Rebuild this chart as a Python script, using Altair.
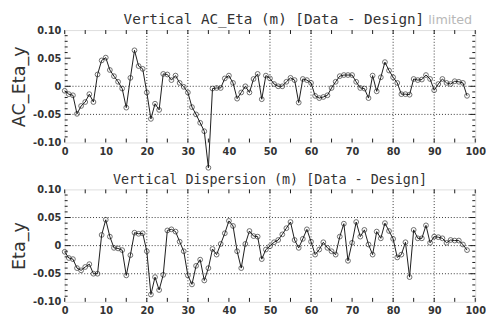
import altair as alt
import pandas as pd

# ---------------- data ----------------
s_pos = list(range(99))

ac_eta_y = [
    -0.008, -0.014, -0.016, -0.049, -0.035, -0.028, -0.014, -0.028, 0.021, 0.046,
    0.051, 0.029, 0.018, 0.008, -0.004, -0.038, 0.015, 0.064, 0.036, 0.031,
    -0.011, -0.058, -0.031, -0.042, 0.022, 0.021, 0.011, 0.019, 0.006, -0.001,
    -0.011, -0.037, -0.050, -0.065, -0.080, -0.145, -0.004, -0.003, -0.003, 0.014,
    0.019, 0.006, -0.022, -0.011, 0.000, -0.011, 0.013, 0.022, -0.023, 0.019,
    0.014, 0.004, 0.000, 0.000, 0.008, 0.015, 0.011, -0.029, 0.013, 0.011,
    0.006, -0.017, -0.021, -0.019, -0.016, -0.003, 0.008, 0.018, 0.020, 0.020,
    0.020, 0.008, -0.003, -0.004, -0.021, 0.019, -0.009, 0.016, 0.043, 0.028,
    0.016, 0.006, -0.014, -0.014, -0.015, 0.013, 0.011, 0.012, 0.020, 0.013,
    -0.007, 0.004, 0.013, 0.006, 0.004, 0.009, 0.008, 0.006, -0.017,
]

eta_y = [
    -0.011, -0.022, -0.024, -0.040, -0.044, -0.038, -0.033, -0.050, -0.050, 0.019,
    0.046, 0.016, -0.004, -0.005, -0.008, -0.053, -0.017, 0.023, 0.021, 0.022,
    -0.010, -0.087, -0.056, -0.079, -0.052, 0.027, 0.029, 0.025, 0.007, -0.010,
    -0.053, -0.069, -0.036, -0.025, -0.062, -0.040, -0.006, -0.016, 0.003, 0.022,
    0.044, 0.035, -0.010, -0.040, 0.003, 0.026, 0.017, 0.016, -0.024, -0.007,
    -0.001, 0.006, 0.010, 0.020, 0.031, 0.042, 0.010, -0.004, 0.012, 0.029,
    0.007, -0.016, -0.007, 0.006, -0.004, -0.010, -0.016, 0.016, 0.039, -0.027,
    0.005, 0.042, 0.016, 0.028, 0.002, -0.016, 0.025, 0.013, 0.040, 0.026,
    0.012, -0.021, -0.016, 0.006, -0.056, 0.028, 0.013, 0.013, 0.036, 0.005,
    0.016, 0.015, 0.013, 0.005, 0.010, 0.009, 0.009, 0.002, -0.008,
]

x_label_values = [0, 10, 20, 30, 40, 50, 60, 70, 80, 90, 100]
x_tick_values = [0, 5, 10, 15, 20, 25, 30, 35, 40, 45, 50, 55, 60, 65, 70, 75, 80, 85, 90, 95, 100]
y_label_values = [-0.10, -0.05, 0.0, 0.05, 0.10]
y_minor_ticks = [-0.09, -0.08, -0.07, -0.06, -0.04, -0.03, -0.02, -0.01,
                 0.01, 0.02, 0.03, 0.04, 0.06, 0.07, 0.08, 0.09]
y_major_ticks = [-0.05, 0.0, 0.05]
x_grid = [20, 30, 50, 60, 80, 90]
top_y_grid = [0.0, -0.05]
bottom_y_grid = [0.05, 0.0, -0.05]

W = 420
H = 115
FONT = "DejaVu Sans"
TITLE_FONT = "DejaVu Sans Mono"
INK = "#1a1a1a"


def panel(values, title_text, y_title, y_grid, title_size, title_dx, extra_text=None):
    df = pd.DataFrame({"s": s_pos, "v": values})
    xscale = alt.Scale(domain=[0, 100], nice=False, zero=False)
    yscale = alt.Scale(domain=[-0.1, 0.1], nice=False, zero=False)

    x_axis = alt.Axis(values=x_label_values, ticks=False, domain=False, grid=False,
                      labelFont=FONT, labelFontSize=10, labelFontWeight="bold",
                      labelColor="#333", labelPadding=4, format="d", title=None,
                      labelFlush=False)
    y_axis = alt.Axis(values=y_label_values, ticks=False, domain=False, grid=False,
                      labelFont=FONT, labelFontSize=10, labelFontWeight="bold",
                      labelColor="#333", labelPadding=4,
                      labelExpr="datum.value == 0 ? '0' : (datum.value < 0 ? '-' + format(-datum.value, '.2f') : format(datum.value, '.2f'))",
                      title=y_title, titleFont=FONT, titleFontSize=18,
                      titleFontWeight="normal", titleColor="#333", titlePadding=4)

    def X(field):
        return alt.X(field, scale=xscale, axis=x_axis)

    def Y(field):
        return alt.Y(field, scale=yscale, axis=y_axis)

    base = alt.Chart(df)
    line = base.mark_line(color=INK, strokeWidth=1, clip=False).encode(
        x=X("s:Q"), y=Y("v:Q"))
    pts = base.mark_point(shape="circle", filled=False, size=24, color=INK,
                          strokeWidth=0.9, clip=False).encode(
        x=X("s:Q"), y=Y("v:Q"))

    gx = alt.Chart(pd.DataFrame({"gx": x_grid})).mark_rule(
        color="#333", strokeWidth=1, strokeDash=[1, 2]).encode(x=X("gx:Q"))
    gy = alt.Chart(pd.DataFrame({"gy": y_grid})).mark_rule(
        color="#333", strokeWidth=1, strokeDash=[1, 2]).encode(y=Y("gy:Q"))

    xt = pd.DataFrame({"t": x_tick_values})
    tick_bottom = alt.Chart(xt).mark_rule(color=INK, strokeWidth=1).encode(
        x=X("t:Q"), y=alt.value(H), y2=alt.value(H - 4))
    tick_top = alt.Chart(xt).mark_rule(color=INK, strokeWidth=1).encode(
        x=X("t:Q"), y=alt.value(0), y2=alt.value(4))

    ymin = pd.DataFrame({"t": y_minor_ticks})
    ymaj = pd.DataFrame({"t": y_major_ticks})
    tl_min = alt.Chart(ymin).mark_rule(color=INK, strokeWidth=1).encode(
        y=Y("t:Q"), x=alt.value(0), x2=alt.value(3))
    tl_maj = alt.Chart(ymaj).mark_rule(color=INK, strokeWidth=1).encode(
        y=Y("t:Q"), x=alt.value(0), x2=alt.value(6))
    tr_min = alt.Chart(ymin).mark_rule(color=INK, strokeWidth=1).encode(
        y=Y("t:Q"), x=alt.value(W), x2=alt.value(W - 3))
    tr_maj = alt.Chart(ymaj).mark_rule(color=INK, strokeWidth=1).encode(
        y=Y("t:Q"), x=alt.value(W), x2=alt.value(W - 6))

    title_mark = alt.Chart(pd.DataFrame({"label": [title_text]})).mark_text(
        font=TITLE_FONT, fontSize=title_size, color="#333", align="center",
        baseline="alphabetic").encode(
        text="label:N", x=alt.value(W / 2 + title_dx), y=alt.value(-6))

    layers = [line, gx, gy, tick_bottom, tick_top, tl_min, tl_maj, tr_min, tr_maj, pts]
    if extra_text:
        txt = alt.Chart(pd.DataFrame({"label": [extra_text]})).mark_text(
            font=FONT, fontSize=13, color="#b8b8b8", align="left", baseline="alphabetic").encode(
            text="label:N", x=alt.value(W - 48), y=alt.value(-6))
        layers.append(txt)
    layers.append(title_mark)

    return alt.layer(*layers).properties(width=W, height=H)


top = panel(ac_eta_y, "Vertical AC_Eta (m) [Data - Design]", "AC_Eta_y", top_y_grid,
            14.6, 4, "limited")
bottom = panel(eta_y, "Vertical Dispersion (m) [Data - Design]", "Eta_y", bottom_y_grid,
               13.7, 0)

chart = alt.vconcat(top, bottom, spacing=48, bounds="flush").properties(
    padding={"left": 2, "top": 0, "right": 0, "bottom": 0}
).configure_view(stroke="black", strokeWidth=1).configure(background="white")

chart.save("out.html", embed_options={"renderer": "svg", "actions": False})
